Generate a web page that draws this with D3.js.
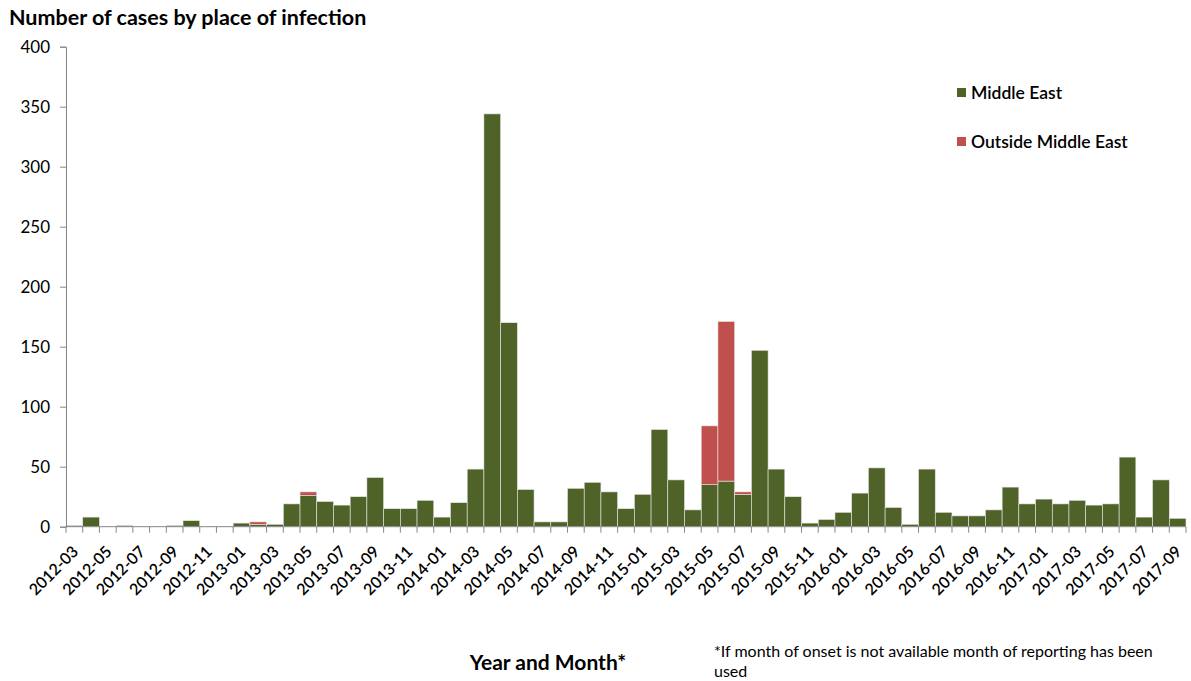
<!DOCTYPE html>
<html>
<head>
<meta charset="utf-8">
<script src="https://cdn.jsdelivr.net/npm/d3@7"></script>
<style>
  body { margin: 0; background: #fff; }
  text { font-family: Lato, "Open Sans", sans-serif; fill: #000; }
</style>
</head>
<body>
<svg id="chart" width="1191" height="681"></svg>
<script>
// months, 2012-03 .. 2017-09
const months = [
  "2012-03","2012-04","2012-05","2012-06","2012-07","2012-08","2012-09","2012-10","2012-11","2012-12",
  "2013-01","2013-02","2013-03","2013-04","2013-05","2013-06","2013-07","2013-08","2013-09","2013-10","2013-11","2013-12",
  "2014-01","2014-02","2014-03","2014-04","2014-05","2014-06","2014-07","2014-08","2014-09","2014-10","2014-11","2014-12",
  "2015-01","2015-02","2015-03","2015-04","2015-05","2015-06","2015-07","2015-08","2015-09","2015-10","2015-11","2015-12",
  "2016-01","2016-02","2016-03","2016-04","2016-05","2016-06","2016-07","2016-08","2016-09","2016-10","2016-11","2016-12",
  "2017-01","2017-02","2017-03","2017-04","2017-05","2017-06","2017-07","2017-08","2017-09"
];

const middleEast = [
  1,8,0,1,0,0,1,5,0,0,
  3,2,2,19,26,21,18,25,41,15,15,22,
  8,20,48,344,170,31,4,4,32,37,29,15,
  27,81,39,14,35,38,27,147,48,25,3,6,
  12,28,49,16,2,48,12,9,9,14,33,19,
  23,19,22,18,19,58,8,39,7
];

const outsideME = [
  0,0,0,0,0,0,0,0,0,0,
  0,2,0,0,3,0,0,0,0,0,0,0,
  0,0,0,0,0,0,0,0,0,0,0,0,
  0,0,0,0,49,133,2,0,0,0,0,0,
  0,0,0,0,0,0,0,0,0,0,0,0,
  0,0,0,0,0,0,0,0,0
];

const yTicks = [0,50,100,150,200,250,300,350,400];
const seriesNames = ["Middle East","Outside Middle East"];
const colors = ["#4f6228","#c0504d"];

const svg = d3.select("#chart");
const mLeft = 66, mRight = 1186, mTop = 46.7, mBottom = 526.7;

const x = d3.scaleBand().domain(months).range([mLeft, mRight]).padding(0);
const y = d3.scaleLinear().domain([0, 400]).range([mBottom, mTop]);

// table for the stack
const rows = months.map((m, i) => ({month: m, me: middleEast[i], out: outsideME[i]}));
const stacked = d3.stack().keys(["me","out"])(rows);

svg.append("g").selectAll("g")
  .data(stacked)
  .join("g")
    .attr("fill", (d, i) => colors[i])
  .selectAll("rect")
  .data(d => d.filter(v => v[1] > v[0]))
  .join("rect")
    .attr("x", d => x(d.data.month))
    .attr("width", x.bandwidth())
    .attr("y", d => y(d[1]))
    .attr("height", d => y(d[0]) - y(d[1]))
    .attr("stroke", "#e6e6e6")
    .attr("stroke-width", 0.6);

// y axis
const yAxis = svg.append("g")
  .attr("transform", `translate(${mLeft},0)`)
  .call(d3.axisLeft(y).tickValues(yTicks).tickSize(6).tickPadding(10));
yAxis.select(".domain").attr("stroke", "#868686");
yAxis.selectAll(".tick line").attr("stroke", "#868686");
yAxis.selectAll(".tick text").style("font-size", "17px");

// x axis: tick marks at every month boundary
const xAxis = svg.append("g");
xAxis.append("line")
  .attr("x1", mLeft).attr("x2", mRight)
  .attr("y1", mBottom).attr("y2", mBottom)
  .attr("stroke", "#868686");
xAxis.selectAll("line.tk")
  .data(months.concat(["end"]))
  .join("line")
    .attr("class", "tk")
    .attr("x1", (d, i) => mLeft + i * x.step())
    .attr("x2", (d, i) => mLeft + i * x.step())
    .attr("y1", mBottom).attr("y2", mBottom + 6)
    .attr("stroke", "#868686");

xAxis.selectAll("text")
  .data(months.filter((d, i) => i % 2 === 0))
  .join("text")
    .attr("transform", d => `translate(${x(d) + x.bandwidth() / 2 + 5},${mBottom + 26}) rotate(-45)`)
    .attr("text-anchor", "end")
    .style("font-size", "16px")
    .style("font-weight", "600")
    .text(d => d);

// title
svg.append("text")
  .attr("x", 9).attr("y", 25)
  .style("font-size", "21.5px").style("font-weight", "bold")
  .text("Number of cases by place of infection");

// legend
const legend = svg.append("g").attr("transform", "translate(957,88)");
seriesNames.forEach((s, i) => {
  legend.append("rect")
    .attr("x", 0).attr("y", i * 49)
    .attr("width", 9).attr("height", 9)
    .attr("fill", colors[i]);
  legend.append("text")
    .attr("x", 14).attr("y", i * 49 + 11)
    .style("font-size", "17.5px").style("font-weight", "600")
    .text(s);
});

// axis title and footnote
svg.append("text")
  .attr("x", 548).attr("y", 670)
  .attr("text-anchor", "middle")
  .style("font-size", "21px").style("font-weight", "bold")
  .text("Year and Month*");

const note = svg.append("text").attr("x", 714).attr("y", 657).style("font-size", "16px");
note.append("tspan").text("*If month of onset is not available month of reporting has been");
note.append("tspan").attr("x", 714).attr("dy", 20).text("used");
</script>
</body>
</html>
